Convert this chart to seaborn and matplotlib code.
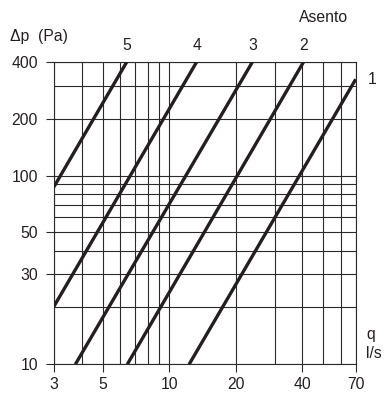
import matplotlib
matplotlib.use("Agg")
import matplotlib.pyplot as plt
import seaborn as sns
import pandas as pd

# Data (endpoints of each straight log-log line)
labels = ["1", "2", "3", "4", "5"]
q_start = [12.3, 6.45, 3.75, 3.0, 3.0]
dp_start = [10, 10, 10, 20.3, 87.3]
q_end = [70, 40.6, 23.8, 13.3, 6.41]
dp_end = [324, 400, 400, 400, 400]

x_ticks = [3, 5, 10, 20, 40, 70]
x_minor = [4, 6, 7, 8, 9, 30, 50, 60]
y_ticks = [10, 30, 50, 100, 200, 400]
y_minor = [20, 40, 60, 70, 80, 90, 300]

rows = []
for lab, qs, ds, qe, de in zip(labels, q_start, dp_start, q_end, dp_end):
    rows.append({"Asento": lab, "q": qs, "dp": ds})
    rows.append({"Asento": lab, "q": qe, "dp": de})
df = pd.DataFrame(rows)

sns.set_style("white")
plt.rcParams["font.family"] = ["Liberation Sans", "DejaVu Sans"]

FS = 11.3
fig = plt.figure(figsize=(3.86, 3.94), dpi=100)
W, H = 386, 394
ax = fig.add_axes([54 / W, 1 - 364.3 / H, (355.7 - 54) / W, (364.3 - 62) / H])

ax.set_xscale("log")
ax.set_yscale("log")
ax.set_xlim(3, 70)
ax.set_ylim(10, 400)

ink = "#231f20"
sns.lineplot(data=df, x="q", y="dp", units="Asento", estimator=None,
             color=ink, linewidth=2.4, ax=ax, legend=False, sort=False,
             solid_capstyle="butt", clip_on=True, zorder=3)

ax.set_xticks(x_ticks)
ax.set_xticklabels([str(v) for v in x_ticks])
ax.set_xticks(x_minor, minor=True)
ax.set_xticklabels([], minor=True)
ax.set_yticks(y_ticks)
ax.set_yticklabels([str(v) for v in y_ticks])
ax.set_yticks(y_minor, minor=True)
ax.set_yticklabels([], minor=True)

ax.grid(True, which="both", color="#2a2a2a", linewidth=0.8)
ax.tick_params(which="major", bottom=True, left=True, direction="out", length=5.5,
               width=0.8, color="#2a2a2a", labelsize=FS, labelcolor=ink, pad=6)
ax.tick_params(axis="x", which="major", pad=4)
ax.tick_params(which="minor", bottom=False, left=False, length=0)
for s in ax.spines.values():
    s.set_color("#2a2a2a")
    s.set_linewidth(0.8)
ax.set_xlabel("")
ax.set_ylabel("")

# curve labels
for lab, qe, de in zip(labels, q_end, dp_end):
    if lab == "1":
        ax.annotate(lab, xy=(qe, de), xytext=(9, 0), textcoords="offset points",
                    ha="left", va="center", fontsize=FS, color=ink, annotation_clip=False)
    else:
        ax.annotate(lab, xy=(qe, 400), xytext=(0, 12), textcoords="offset points",
                    ha="center", va="center", fontsize=FS, color=ink, annotation_clip=False)

fig.text(10 / W, 1 - 36 / H, "Δp  (Pa)", ha="left", va="center", fontsize=FS, color=ink)
fig.text(324 / W, 1 - 17 / H, "Asento", ha="center", va="center", fontsize=FS, color=ink)
fig.text(366 / W, 1 - 335 / H, "q", ha="left", va="center", fontsize=FS, color=ink)
fig.text(366 / W, 1 - 353 / H, "l/s", ha="left", va="center", fontsize=FS, color=ink)

fig.savefig("out.png", dpi=100)
